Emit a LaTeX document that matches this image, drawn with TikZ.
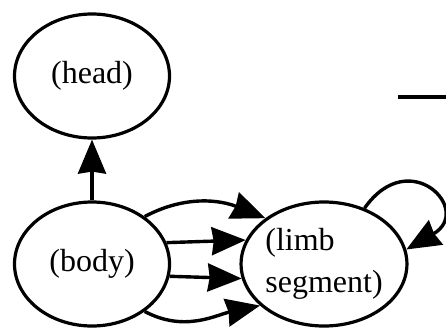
\documentclass[tikz,border=0pt]{standalone}
\usepackage{fontspec}
\setmainfont{Liberation Serif}
\usetikzlibrary{shapes.geometric,arrows.meta}
\begin{document}
\begin{tikzpicture}[x=1pt,y=-1pt,
  part/.style={ellipse,draw,line width=3.2pt,inner sep=0pt,
    minimum width=155pt,minimum height=124pt,
    font=\fontsize{32}{42}\selectfont},
  link/.style={line width=3.4pt,
    -{Stealth[length=34pt,width=28pt,inset=2pt]}}]
\useasboundingbox (0,0) rectangle (446,327);
\node[part] (head) at (92,76) {(head)};
\node[part] (body) at (92,264) {(body)};
\node[part,minimum width=152pt,align=left] (limb) at (324,264) {(limb\\segment)};
% body to head
\draw[link] (body) -- (head);
% four body-to-limb links
\draw[link] (body.42) to[out=28,in=158] (limb.142);
\draw[link] (body.16.1) -- (limb.163.6);
\draw[link] (body.-9.7) -- (limb.190.1);
\draw[link] (body.-42) to[out=-28,in=192] (limb.213);
% limb self-loop
\draw[link] (limb.54) to[out=55,in=30,looseness=3.4] (limb.10);
% stroke leaving at the top right
\coordinate (s0) at (398,97);
\coordinate (s1) at (447,97);
\draw[line width=3.4pt] (s0) -- (s1);
\end{tikzpicture}
\end{document}
